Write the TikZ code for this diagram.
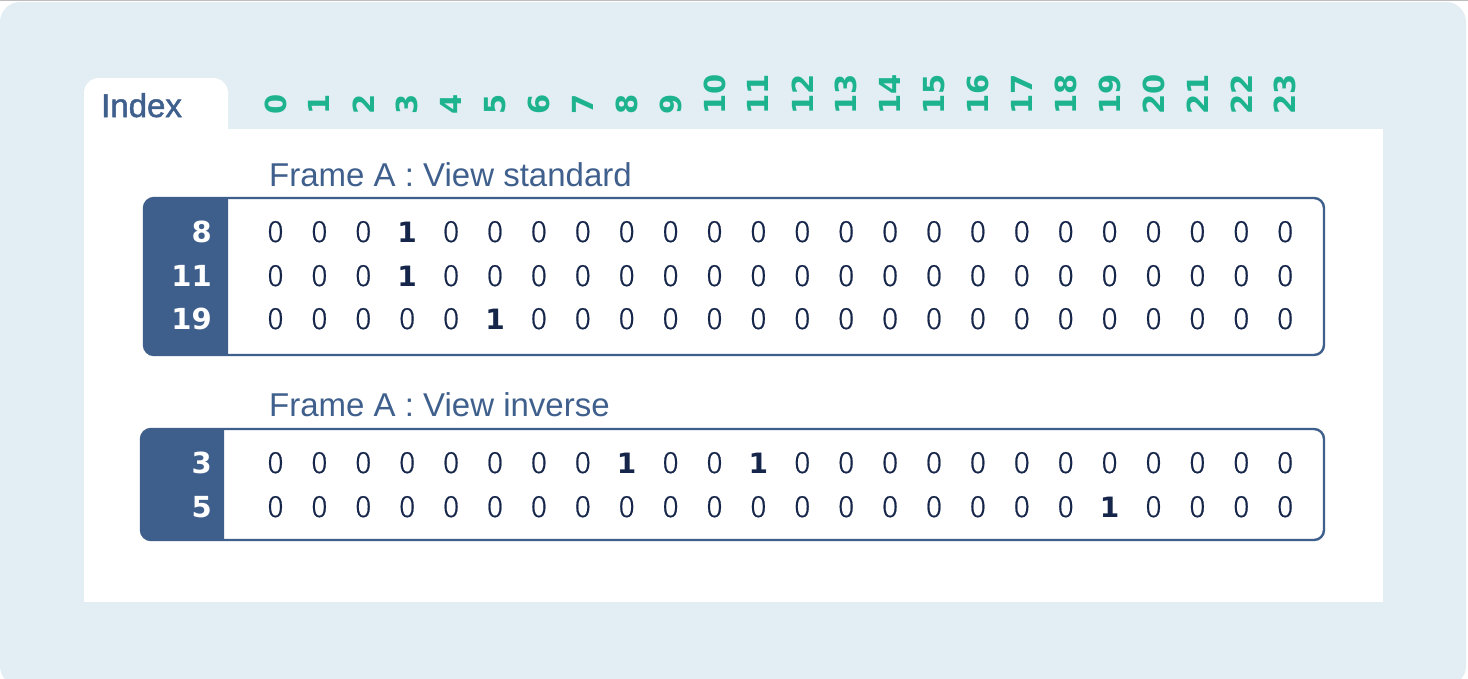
\documentclass[tikz,border=0pt]{standalone}
\usepackage{fontspec}
\setmainfont{Liberation Sans}
\newfontfamily\numfont{DejaVu Sans}
\newfontfamily\zerofont[FakeBold=0.6]{Fira Sans Light}
\newfontfamily\idxfont[FakeBold=1.5]{Liberation Sans}
\definecolor{bgc}{HTML}{E2EEF3}
\definecolor{boxc}{HTML}{3E5F8C}
\definecolor{titc}{HTML}{3F5F8D}
\definecolor{grn}{HTML}{1DB38F}
\definecolor{navy}{HTML}{16264A}
\definecolor{topline}{HTML}{BDBDBD}
\tikzset{
  zero/.style={font=\zerofont\fontsize{31}{31}\selectfont, text=navy, anchor=base, inner sep=0pt},
  one/.style={font=\numfont\bfseries\fontsize{28}{28}\selectfont, text=navy, anchor=base, inner sep=0pt},
  hdr/.style={font=\numfont\bfseries\fontsize{29}{29}\selectfont, text=grn, rotate=90, anchor=west, inner sep=0pt},
  lab/.style={font=\numfont\bfseries\fontsize{29}{29}\selectfont, text=white, anchor=base east, inner sep=0pt},
  ttl/.style={font=\fontsize{33}{33}\selectfont, text=titc, anchor=base west, inner sep=0pt},
  frame/.style={draw=boxc, line width=2.4pt, rounded corners=10pt},
}
\begin{document}
\begin{tikzpicture}[x=1pt,y=-1pt]
\useasboundingbox (0,0) rectangle (1468,678);
% outer background
\fill[bgc, rounded corners=20pt] (0,2) rectangle (1466,686);
\draw[topline, line width=1pt] (0,0.6) -- (1468,0.6);
% white panel and tab
\fill[white, rounded corners=15pt] (84,78) rectangle (228,150);
\fill[white] (84,129) rectangle (1383,602);
\node[font=\idxfont\fontsize{33}{33}\selectfont, text=titc, anchor=base west, inner sep=0pt] (index) at (101,117) {Index};
% column headers
\foreach \i in {0,...,23}{
  \node[hdr] (h\i) at ({275.5+43.9*\i},114.5) {\i};
}
% titles
\node[ttl] (t1) at (269,186) {Frame A : View standard};
\node[ttl] (t2) at (269,416) {Frame A : View inverse};
% frame 1
\fill[white, rounded corners=10pt] (144,198) rectangle (1324,355);
\begin{scope}
  \clip (130,190) rectangle (228,365);
  \fill[boxc, rounded corners=10pt] (144,198) rectangle (1324,355);
\end{scope}
\draw[frame] (144,198) rectangle (1324,355);
% frame 2
\fill[white, rounded corners=10pt] (141,429) rectangle (1324,540);
\begin{scope}
  \clip (130,420) rectangle (224,550);
  \fill[boxc, rounded corners=10pt] (141,429) rectangle (1324,540);
\end{scope}
\draw[frame] (141,429) rectangle (1324,540);
% row labels
\node[lab] (l1) at (212,242) {8};
\node[lab] (l2) at (212,286) {11};
\node[lab] (l3) at (212,329) {19};
\node[lab] (l4) at (212,473) {3};
\node[lab] (l5) at (212,517) {5};
% cells
\foreach \r/\yy/\a/\b in {1/242/3/-1, 2/286/3/-1, 3/329/5/-1, 4/473/8/11, 5/517/19/-1}{
  \foreach \i in {0,...,23}{
    \pgfmathsetmacro\xx{275.5+43.9*\i}
    \ifnum\i=\a
      \node[one] (c\r-\i) at (\xx,\yy) {1};
    \else\ifnum\i=\b
      \node[one] (c\r-\i) at (\xx,\yy) {1};
    \else
      \node[zero] (c\r-\i) at (\xx,\yy) {0};
    \fi\fi
  }
}
\end{tikzpicture}
\end{document}
